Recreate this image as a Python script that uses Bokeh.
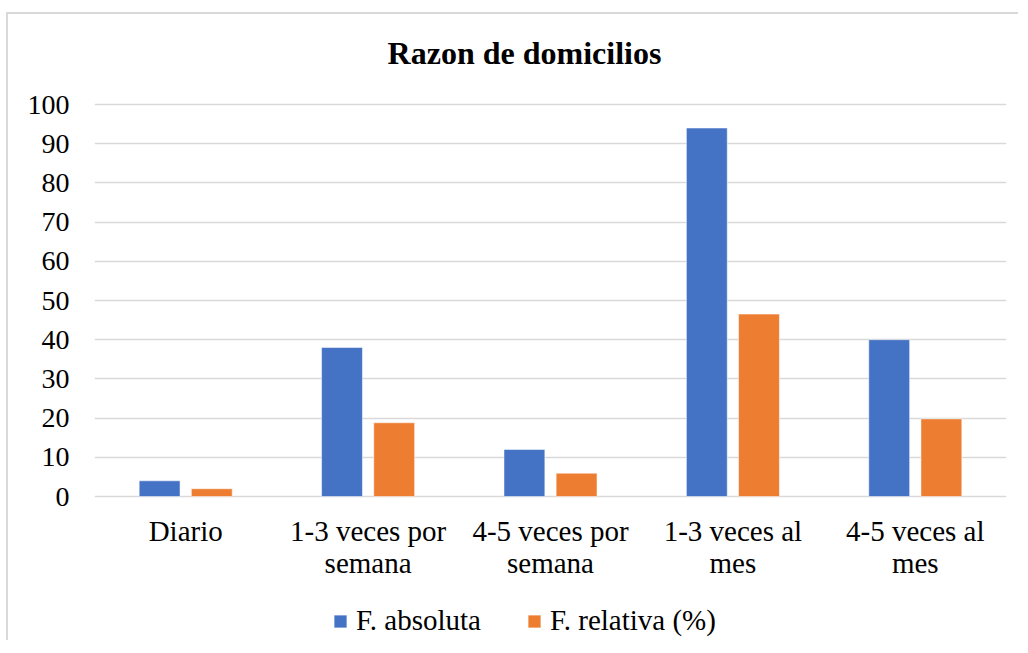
from bokeh.plotting import figure
from bokeh.models import ColumnDataSource, Range1d, FixedTicker, Legend, LegendItem, Label
from bokeh.core.properties import value
from bokeh.transform import dodge
from bokeh.embed import file_html
from bokeh.resources import INLINE

categorias = ["Diario", "1-3 veces por semana", "4-5 veces por semana",
              "1-3 veces al mes", "4-5 veces al mes"]
etiquetas = ["Diario", "1-3 veces por\nsemana", "4-5 veces por\nsemana",
             "1-3 veces al\nmes", "4-5 veces al\nmes"]
f_absoluta = [4, 38, 12, 94, 40]
f_relativa = [1.98, 18.81, 5.94, 46.53, 19.80]
y_ticks = list(range(0, 101, 10))
titulo = "Razon de domicilios"

FONT = "Liberation Serif"
BLUE = "#4472C4"
ORANGE = "#ED7D31"
GRID = "#d9d9d9"

# layout (pixels): the frame spans the whole canvas height; value 100 sits TOP_ZONE
# below the top, value 0 sits LABEL_ZONE above the bottom.
PLOT_H = 628
TOP_ZONE = 90
LABEL_ZONE = 146
PX_PER_UNIT = (PLOT_H - TOP_ZONE - LABEL_ZONE) / 100.0
y_start = -LABEL_ZONE / PX_PER_UNIT
y_end = 100 + TOP_ZONE / PX_PER_UNIT

src = ColumnDataSource(dict(idx=list(range(len(categorias))), cat=categorias,
                            lab=etiquetas, base=[0] * len(categorias),
                            abs=f_absoluta, rel=f_relativa))

p = figure(width=1012, height=PLOT_H, output_backend="svg", toolbar_location=None,
           x_range=Range1d(-0.5, len(categorias) - 0.5), y_range=Range1d(y_start, y_end),
           min_border_left=86, min_border_right=14, min_border_top=0, min_border_bottom=0)
p.styles = {"margin-top": "12px", "margin-left": "6px",
            "border-top": "2px solid #d9d9d9", "border-left": "2px solid #d9d9d9"}

r1 = p.vbar(x=dodge("idx", -0.143, range=p.x_range), top="abs", width=0.224, source=src,
            fill_color=BLUE, line_color="white", line_alpha=0.5, line_width=1)
r2 = p.vbar(x=dodge("idx", 0.143, range=p.x_range), top="rel", width=0.224, source=src,
            fill_color=ORANGE, line_color="white", line_alpha=0.5, line_width=1)

# category labels under the zero line
p.text(x="idx", y="base", text="lab", source=src, y_offset=18,
       text_align="center", text_baseline="top", text_font=value(FONT),
       text_font_size="29px", text_color="black", text_line_height=1.0)

# chart title
p.add_layout(Label(x=430, y=PLOT_H - 38, x_units="screen", y_units="screen", text=titulo,
                   text_align="center", text_baseline="alphabetic", text_font=FONT,
                   text_font_size="32px", text_font_style="bold", text_color="black"))

p.outline_line_color = None
p.xgrid.grid_line_color = None
p.ygrid.grid_line_color = GRID
p.ygrid.grid_line_width = 1.5
p.ygrid.ticker = FixedTicker(ticks=y_ticks)

p.yaxis.ticker = FixedTicker(ticks=y_ticks)
p.yaxis.axis_line_color = None
p.yaxis.major_tick_line_color = None
p.yaxis.minor_tick_line_color = None
p.yaxis.major_tick_out = 0
p.yaxis.major_label_standoff = 25
p.yaxis.major_label_text_font = FONT
p.yaxis.major_label_text_font_size = "28px"
p.yaxis.major_label_text_color = "black"

p.xaxis.visible = False

legend = Legend(items=[LegendItem(label="F. absoluta", renderers=[r1]),
                       LegendItem(label="F. relativa (%)", renderers=[r2])],
                orientation="horizontal", location=(238, 5),
                glyph_width=16, glyph_height=16, label_standoff=8, spacing=45,
                padding=0, margin=0, border_line_color=None, background_fill_alpha=0,
                label_text_font=FONT, label_text_font_size="29px", label_text_color="black")
p.add_layout(legend, "center")

open("out.html", "w").write(file_html(p, INLINE))
